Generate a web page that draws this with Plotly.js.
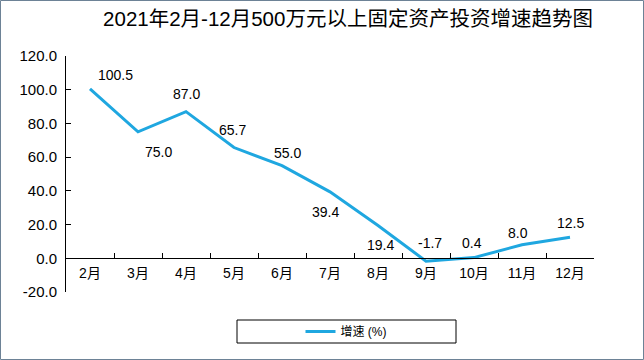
<!DOCTYPE html>
<html><head><meta charset="utf-8">
<script src="https://cdn.plot.ly/plotly-3.0.1.min.js"></script>
<style>html,body{margin:0;padding:0;background:#fff}#chart{width:644px;height:360px}</style>
</head><body><div id="chart"></div>
<script>
const months = ["2月","3月","4月","5月","6月","7月","8月","9月","10月","11月","12月"];
const growth = [100.5, 75.0, 87.0, 65.7, 55.0, 39.4, 19.4, -1.7, 0.4, 8.0, 12.5];
const seriesName = "增速 (%)";
const titleText = "2021年2月-12月500万元以上固定资产投资增速趋势图";
const yTicks = [-20, 0, 20, 40, 60, 80, 100, 120];
// label offsets in px [dx, dy(up)]
const labelOffsets = [[25,14],[20,-20],[0,18],[-2,18],[5,13],[-5,-20],[2,-19],[4,18],[-2,15],[-4,12],[0,14]];

const W = 528, H = 236, L = 66, T = 56;
const px = x => (x - L) / W;
const py = y => (T + H - y) / H;

const annotations = growth.map((v, i) => ({
  x: months[i], y: v, text: v.toFixed(1), showarrow: false,
  xshift: labelOffsets[i][0], yshift: labelOffsets[i][1],
  font: {family: "Arial, 'Liberation Sans'", size: 14, color: "#000"}
}));

const data = [{
  type: "scatter", mode: "lines", x: months, y: growth, name: seriesName,
  line: {color: "#1fa7e0", width: 3}
}];

const layout = {
  width: 644, height: 360,
  margin: {l: L, r: 644 - L - W, t: T, b: 360 - T - H},
  paper_bgcolor: "#fff", plot_bgcolor: "#fff",
  title: {text: titleText, x: 348/644, xref: "container", xanchor: "center",
          y: 1 - 19/360, yref: "container", yanchor: "middle",
          font: {family: "Arial, 'Noto Sans CJK SC'", size: 20.5, color: "#000"}},
  xaxis: {
    type: "category", anchor: "free", position: 20/140,
    showline: true, linecolor: "#000", linewidth: 1,
    ticks: "inside", ticklen: 5, tickcolor: "#000", tickson: "boundaries",
    showgrid: false, zeroline: false, range: [-0.5, 10.5], ticklabelstandoff: 2,
    tickfont: {family: "Arial, 'Noto Sans CJK SC'", size: 14, color: "#000"}
  },
  yaxis: {
    range: [-20, 120], tickvals: yTicks, ticktext: yTicks.map(v => v.toFixed(1)),
    showline: true, linecolor: "#000", linewidth: 1,
    ticks: "inside", ticklen: 5, tickcolor: "#000",
    showgrid: false, zeroline: false, ticklabelstandoff: 5,
    tickfont: {family: "Arial, 'Liberation Sans'", size: 15, color: "#000"}
  },
  showlegend: true,
  legend: {orientation: "h", x: px(346), xanchor: "center", y: py(331.5), yanchor: "middle",
           bgcolor: "rgba(0,0,0,0)", borderwidth: 0,
           font: {family: "Arial, 'Noto Sans CJK SC'", size: 12, color: "#000"}},
  shapes: [
    {type: "rect", xref: "paper", yref: "paper", x0: px(237), x1: px(456), y0: py(343), y1: py(320),
     line: {color: "#000", width: 1}, fillcolor: "rgba(0,0,0,0)"},
    {type: "rect", xref: "paper", yref: "paper", x0: px(0.5), x1: px(643.5), y0: py(359.5), y1: py(0.5),
     line: {color: "#6d8296", width: 1}, fillcolor: "rgba(0,0,0,0)"}
  ],
  annotations: annotations
};
Plotly.newPlot("chart", data, layout, {displayModeBar: false, staticPlot: true});
</script></body></html>
